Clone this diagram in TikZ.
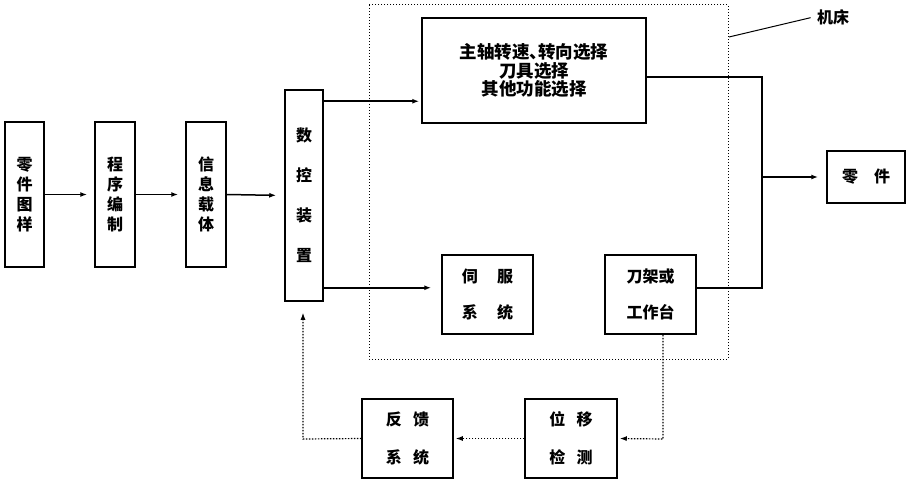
\documentclass[tikz,border=0pt]{standalone}
\usepackage{fontspec}
\newfontfamily\cjk{Noto Sans CJK SC}
\usetikzlibrary{arrows.meta,calc}
\begin{document}
\begin{tikzpicture}[x=1pt,y=-1pt,
  box/.style={draw,line width=1.5pt,rectangle,inner sep=0pt,align=center,font=\cjk\bfseries\fontsize{16}{20}\selectfont},
  ln/.style={line width=1.5pt},
  arr/.style={-{Latex[length=7pt,width=5pt]}},
  fb/.style={line width=1.2pt,dash pattern=on 1.5pt off 1.5pt},
  frame/.style={line width=1pt,dash pattern=on 1pt off 2pt}]
\useasboundingbox (0,0) rectangle (909,484);
% machine frame
\draw[frame] (369,5) rectangle (728,359);
% nodes
\node[box,minimum width=39pt,minimum height=145pt] (n1) at (24.5,194.5) {零\\件\\图\\样};
\node[box,minimum width=40pt,minimum height=145pt] (n2) at (115,194.5) {程\\序\\编\\制};
\node[box,minimum width=40pt,minimum height=145pt] (n3) at (206,194.5) {信\\息\\载\\体};
\node[box,minimum width=38pt,minimum height=211pt,font=\cjk\bfseries\fontsize{16}{40}\selectfont] (nc) at (304,195.5) {数\\控\\装\\置};
\node[box,minimum width=224pt,minimum height=105pt,font=\cjk\bfseries\fontsize{17.5}{18.5}\selectfont] (nm) at (534,70.5) {主轴转速、\hspace{-0.5em}转向选择\\刀具选择\\其他功能选择};
\node[box,minimum width=91pt,minimum height=79pt,font=\cjk\bfseries\fontsize{16}{36}\selectfont] (ns) at (487.5,294.5) {伺\hspace{1.2em}服\\系\hspace{1.2em}统};
\node[box,minimum width=91pt,minimum height=79pt,font=\cjk\bfseries\fontsize{16}{36}\selectfont] (nt) at (650.5,294.5) {刀架或\\工作台};
\node[box,minimum width=78pt,minimum height=52pt] (np) at (866,177) {零\hspace{1em}件};
\node[box,minimum width=92pt,minimum height=79pt,font=\cjk\bfseries\fontsize{16}{38}\selectfont] (nw) at (571,438.5) {位\hspace{0.7em}移\\检\hspace{0.7em}测};
\node[box,minimum width=91pt,minimum height=79pt,font=\cjk\bfseries\fontsize{16}{38}\selectfont] (nf) at (407.5,438.5) {反\hspace{0.7em}馈\\系\hspace{0.7em}统};
\node[font=\cjk\bfseries\fontsize{16}{20}\selectfont] (lbl) at (833,17) {机床};
\coordinate (lead) at (729,37);
\draw[line width=1pt,shorten >=3pt] (lead) -- (lbl.west);
% main chain
\draw[ln,arr,shorten >=7pt] (n1.east) -- (n2.west);
\draw[ln,arr,shorten >=7pt] (n2.east) -- (n3.west);
\draw[ln,arr,shorten >=8pt] (n3.east) -- (nc.west);
\draw[ln,arr,shorten >=2pt] ([yshift=-12pt]nc.north east) -- ([yshift=-12pt]nc.north east -| nm.west);
\draw[ln,arr,shorten >=10pt] ([yshift=14pt]nc.south east) -- ([yshift=14pt]nc.south east -| ns.west);
% outputs
\coordinate (jt) at (762,77);
\coordinate (jb) at (762,288);
\coordinate (jm) at (762,177);
\draw[ln] (nm.east |- jt) -- (jt) -- (jb) -- (nt.east |- jb);
\draw[ln,arr,shorten >=8pt] (jm) -- (np.west);
% feedback
\coordinate (fr) at (663,439);
\coordinate (fl) at (303,439);
\draw[fb,arr,shorten >=2pt] (nt.south -| fr) -- (fr) -- (nw.east);
\draw[fb,arr,shorten >=2pt] (nw.west) -- (nf.east);
\draw[fb,arr,shorten >=11pt] (nf.west) -- (fl) -- (fl |- nc.south);
\end{tikzpicture}
\end{document}
